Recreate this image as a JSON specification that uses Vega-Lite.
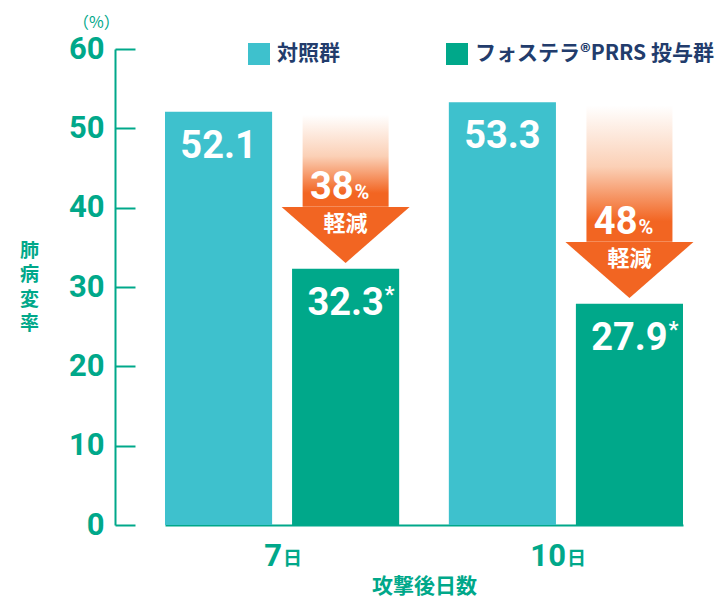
{
  "$schema": "https://vega.github.io/schema/vega-lite/v6.json",
  "width": 607,
  "height": 476,
  "autosize": "none",
  "padding": {"left": 115, "top": 49, "right": 0, "bottom": 73},
  "background": "white",
  "config": {"view": {"stroke": null}, "font": "Noto Sans CJK JP"},
  "title": {"text": "（%）", "anchor": "start", "frame": "group", "dx": -42, "offset": -11, "baseline": "alphabetic", "fontSize": 16, "fontWeight": "normal", "color": "#00a88a", "font": "Noto Sans CJK JP"},
  "datasets": {
    "bars": [
      {"day": "7日", "group": "対照群", "value": 52.1, "label": "52.1", "sig": ""},
      {"day": "7日", "group": "フォステラ®PRRS 投与群", "value": 32.3, "label": "32.3", "sig": "*"},
      {"day": "10日", "group": "対照群", "value": 53.3, "label": "53.3", "sig": ""},
      {"day": "10日", "group": "フォステラ®PRRS 投与群", "value": 27.9, "label": "27.9", "sig": "*"}
    ],
    "arrows": [
      {"day": "7日", "group": "フォステラ®PRRS 投与群", "top": 51.7, "base": 40.1, "head": 36.56, "pct": "38"},
      {"day": "10日", "group": "フォステラ®PRRS 投与群", "top": 52.9, "base": 35.7, "head": 32.14, "pct": "48"}
    ]
  },
  "encoding": {
    "x": {
      "field": "day", "type": "nominal", "sort": ["7日", "10日"],
      "scale": {"range": [50, 568], "paddingInner": 0.175, "paddingOuter": 0},
      "axis": {
        "title": "攻撃後日数", "labelExpr": "replace(datum.label, '日', '')", "labelAngle": 0,
        "labelAlign": "right", "labelBaseline": "alphabetic", "labelPadding": 40,
        "ticks": false, "tickSize": 0, "domainColor": "#00a88a", "domainWidth": 2,
        "labelFont": "Roboto", "labelFontSize": 31, "labelFontWeight": "bold", "labelColor": "#00a88a",
        "titleFont": "Noto Sans CJK JP", "titleFontSize": 21, "titleFontWeight": "bold", "titleColor": "#00a88a",
        "titleY": 67, "titleBaseline": "alphabetic"
      }
    }
  },
  "layer": [
    {
      "data": {"name": "bars"},
      "mark": {"type": "bar"},
      "encoding": {
        "xOffset": {"field": "group", "type": "nominal", "sort": ["対照群", "フォステラ®PRRS 投与群"], "scale": {"paddingInner": 0.157, "paddingOuter": 0}},
        "y": {
          "field": "value", "type": "quantitative", "scale": {"domain": [0, 60], "nice": false},
          "axis": {
            "values": [0, 10, 20, 30, 40, 50, 60], "tickSize": -20, "tickWidth": 2, "tickColor": "#00a88a",
            "domainColor": "#00a88a", "domainWidth": 2, "labelPadding": 31, "grid": false,
            "labelFont": "Roboto", "labelFontSize": 31, "labelFontWeight": "bold", "labelColor": "#00a88a", "labelBaseline": "middle",
            "labelFlush": false, "labelOverlap": false,
            "title": ["肺", "病", "変", "率"], "titleAngle": 0, "titleX": -86, "titleY": 201,
            "titleAlign": "center", "titleBaseline": "middle", "titleLineHeight": 24.5,
            "titleFont": "Noto Sans CJK JP", "titleFontSize": 19, "titleFontWeight": "bold", "titleColor": "#00a88a"
          }
        },
        "color": {
          "field": "group", "type": "nominal",
          "scale": {"domain": ["対照群", "フォステラ®PRRS 投与群"], "range": ["#3ec1cd", "#00a88a"]},
          "legend": {
            "orient": "none", "legendX": 133, "legendY": -6, "direction": "horizontal", "title": null,
            "symbolType": "square", "symbolSize": 484, "symbolStrokeWidth": 0, "symbolOpacity": 1,
            "labelFont": "Noto Sans CJK JP", "labelFontSize": 21, "labelFontWeight": "bold", "labelColor": "#223c6c",
            "labelOffset": 7, "columnPadding": 106, "labelLimit": 400, "padding": 0
          }
        }
      }
    },
    {
      "data": {"name": "bars"},
      "mark": {"type": "text", "baseline": "alphabetic", "dy": 46, "fontSize": 38, "fontWeight": "bold", "color": "white", "font": "Roboto"},
      "encoding": {
        "xOffset": {"field": "group", "type": "nominal", "sort": ["対照群", "フォステラ®PRRS 投与群"]},
        "y": {"field": "value", "type": "quantitative"},
        "text": {"field": "label"}
      }
    },
    {
      "data": {"name": "bars"},
      "mark": {"type": "text", "baseline": "alphabetic", "align": "left", "dx": 39, "dy": 33, "fontSize": 22, "fontWeight": "bold", "color": "white", "font": "Roboto"},
      "encoding": {
        "xOffset": {"field": "group", "type": "nominal", "sort": ["対照群", "フォステラ®PRRS 投与群"]},
        "y": {"field": "value", "type": "quantitative"},
        "text": {"field": "sig"}
      }
    },
    {
      "data": {"name": "arrows"},
      "mark": {
        "type": "bar", "width": 86,
        "color": {"gradient": "linear", "x1": 0, "y1": 0, "x2": 0, "y2": 1,
          "stops": [
            {"offset": 0, "color": "#ffffff"},
            {"offset": 0.45, "color": "#fbd0b6"},
            {"offset": 0.85, "color": "#f26522"},
            {"offset": 1, "color": "#f26522"}
          ]}
      },
      "encoding": {
        "xOffset": {"field": "group", "type": "nominal", "sort": ["対照群", "フォステラ®PRRS 投与群"]},
        "y": {"field": "top", "type": "quantitative"},
        "y2": {"field": "base"}
      }
    },
    {
      "data": {"name": "arrows"},
      "mark": {"type": "point", "shape": "M-1,-0.4375L1,-0.4375L0,0.4375Z", "size": 16384, "filled": true, "color": "#f26522", "opacity": 1, "strokeWidth": 0},
      "encoding": {
        "xOffset": {"field": "group", "type": "nominal", "sort": ["対照群", "フォステラ®PRRS 投与群"]},
        "y": {"field": "head", "type": "quantitative"}
      }
    },
    {
      "data": {"name": "arrows"},
      "mark": {"type": "text", "baseline": "alphabetic", "align": "right", "dx": 8, "dy": -8, "fontSize": 38, "fontWeight": "bold", "color": "white", "font": "Roboto"},
      "encoding": {
        "xOffset": {"field": "group", "type": "nominal", "sort": ["対照群", "フォステラ®PRRS 投与群"]},
        "y": {"field": "base", "type": "quantitative"},
        "text": {"field": "pct"}
      }
    },
    {
      "data": {"name": "arrows"},
      "mark": {"type": "text", "baseline": "alphabetic", "align": "left", "dx": 9, "dy": -8, "fontSize": 20, "fontWeight": "bold", "color": "white", "font": "Roboto", "text": "%"},
      "encoding": {
        "xOffset": {"field": "group", "type": "nominal", "sort": ["対照群", "フォステラ®PRRS 投与群"]},
        "y": {"field": "base", "type": "quantitative"}
      }
    },
    {
      "data": {"name": "arrows"},
      "mark": {"type": "text", "baseline": "alphabetic", "align": "center", "dy": 24, "fontSize": 22, "fontWeight": "bold", "color": "white", "font": "Noto Sans CJK JP", "text": "軽減"},
      "encoding": {
        "xOffset": {"field": "group", "type": "nominal", "sort": ["対照群", "フォステラ®PRRS 投与群"]},
        "y": {"field": "base", "type": "quantitative"}
      }
    },
    {
      "data": {"name": "arrows"},
      "mark": {"type": "text", "baseline": "alphabetic", "align": "left", "dx": 1, "dy": 40, "fontSize": 19, "fontWeight": "bold", "color": "#00a88a", "font": "Noto Sans CJK JP", "text": "日"},
      "encoding": {
        "y": {"datum": 0, "type": "quantitative"}
      }
    }
  ]
}
